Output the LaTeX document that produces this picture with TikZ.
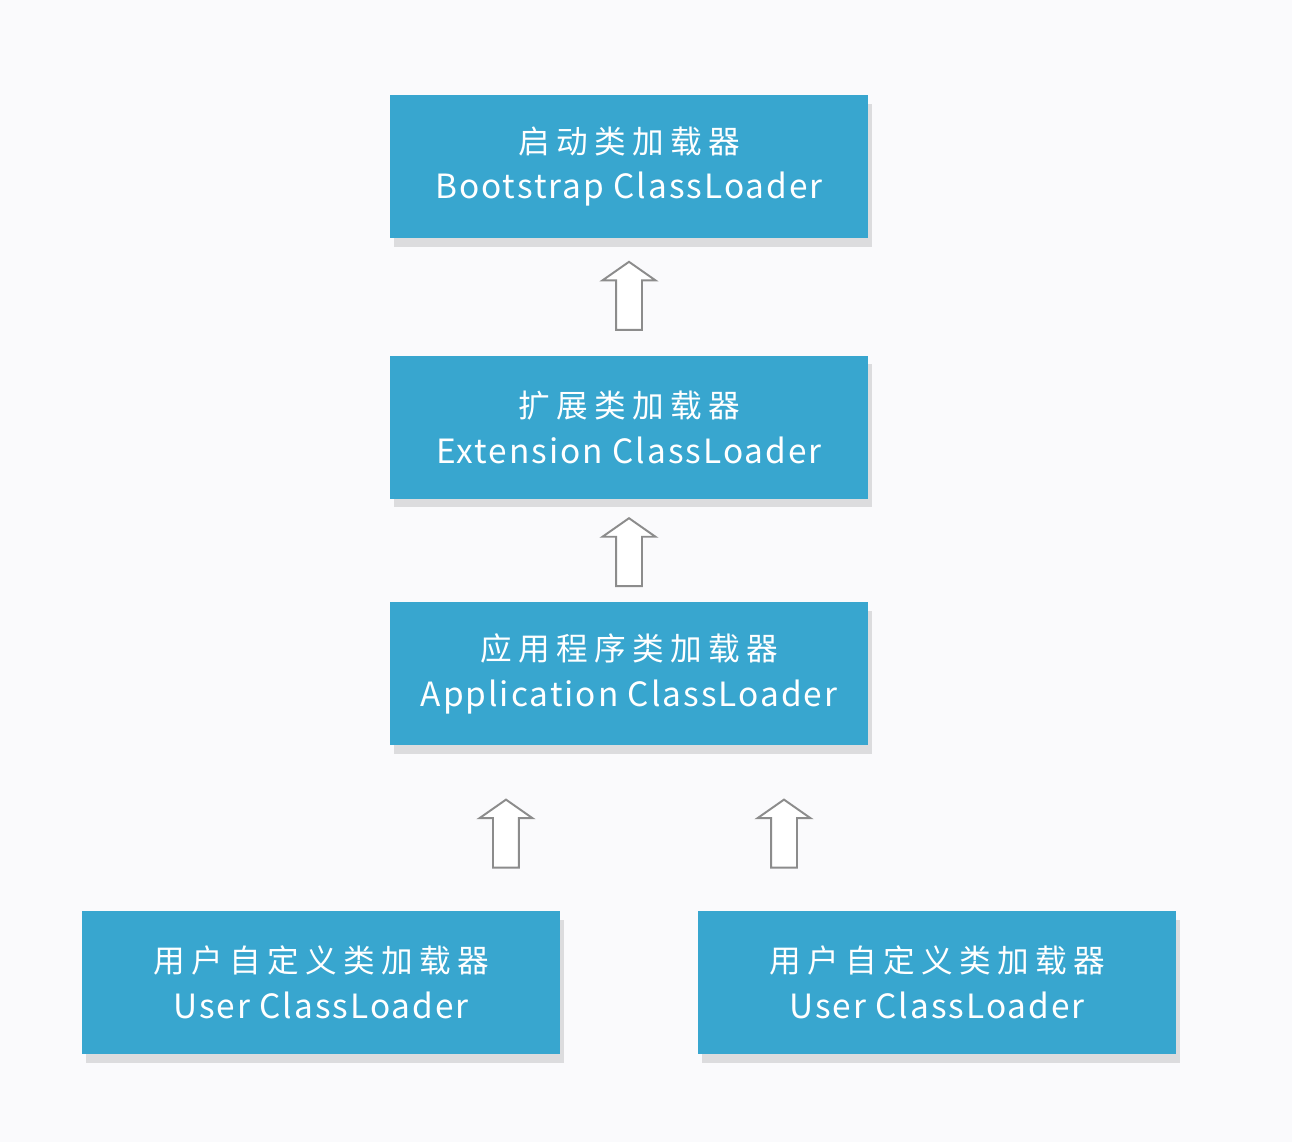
\documentclass[tikz,border=0pt]{standalone}
\usepackage{fontspec}
\usepackage{tikz}
\usetikzlibrary{positioning,calc,shapes.arrows,shadows}
\newfontfamily\cjk{Noto Sans CJK SC}
\newcommand{\zh}[1]{{\addfontfeature{LetterSpace=20}#1}}
\newcommand{\en}[1]{{\fontsize{19}{26}\selectfont\addfontfeature{LetterSpace=6}#1}}
\definecolor{loaderblue}{RGB}{56,166,207}
\definecolor{paper}{RGB}{250,250,252}

\begin{document}
\begin{tikzpicture}[
  font=\cjk\fontsize{18}{26}\selectfont,
  loader/.style={fill=loaderblue, minimum width=9.56cm, minimum height=2.86cm, align=center, text=white,
    drop shadow={shadow xshift=2pt, shadow yshift=-5pt, opacity=0.2, fill=black!60}},
  uparrow/.style={single arrow, shape border rotate=90, draw=black!45, line width=1.1pt, fill=white,
    minimum height=1.36cm, single arrow head extend=0.27cm,
    single arrow tip angle=110, inner sep=0.24cm}
]
\fill[paper] (-12.58,3.33) rectangle (13.26,-19.51);
\useasboundingbox (-12.58,3.33) rectangle (13.26,-19.51);

\node[loader] (boot) at (0,0) {\zh{启动类加载器}\\\en{Bootstrap ClassLoader}};
\node[loader, below=2.34cm of boot] (ext) {\zh{扩展类加载器}\\\en{Extension ClassLoader}};
\node[loader, below=2.06cm of ext] (app) {\zh{应用程序类加载器}\\\en{Application ClassLoader}};
\node[loader, below=3.3cm of app, xshift=-6.16cm] (u1) {\zh{用户自定义类加载器}\\\en{User ClassLoader}};
\node[loader, below=3.3cm of app, xshift=6.16cm] (u2) {\zh{用户自定义类加载器}\\\en{User ClassLoader}};

\node[uparrow] (up1) at ($(boot.south)!0.53!(ext.north)$) {};
\node[uparrow] (up2) at ($(ext.south)!0.56!(app.north)$) {};
\node[uparrow] (up3) at ($(app.south)!0.56!(app.south |- u1.north) + (-2.46,0)$) {};
\node[uparrow] (up4) at ($(app.south)!0.56!(app.south |- u2.north) + (3.1,0)$) {};

\end{tikzpicture}
\end{document}
